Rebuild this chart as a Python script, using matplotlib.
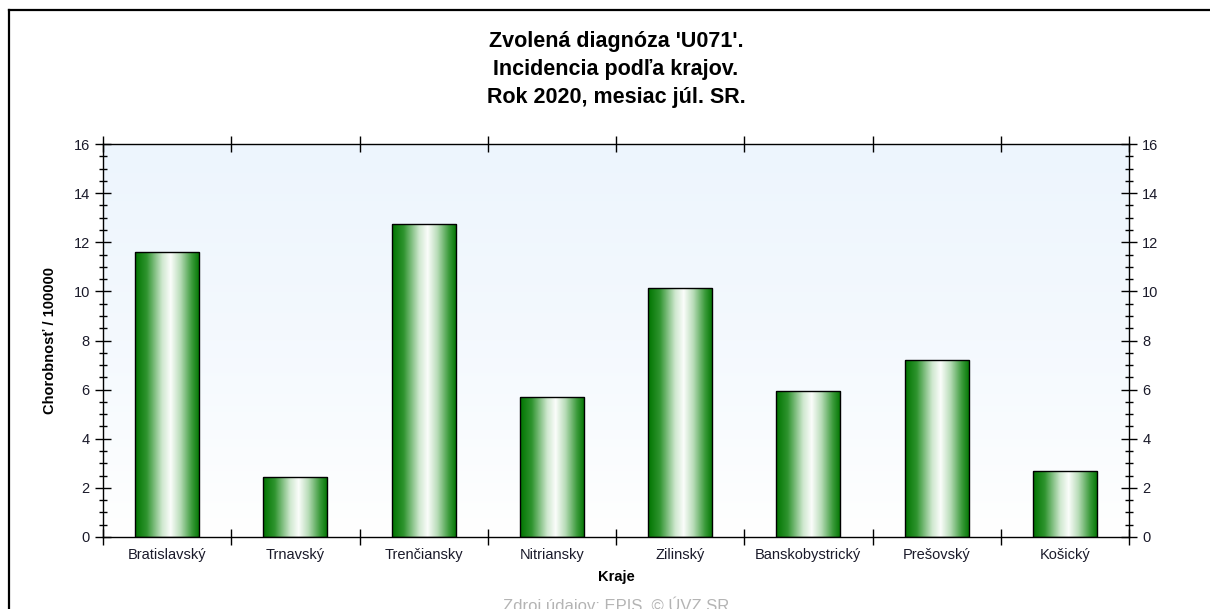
import numpy as np
import matplotlib
matplotlib.use('Agg')
import matplotlib.pyplot as plt
from matplotlib.colors import LinearSegmentedColormap
from matplotlib.lines import Line2D
from matplotlib.ticker import MultipleLocator

plt.rcParams['font.family'] = ['Liberation Sans', 'DejaVu Sans']

# data
regions = ['Bratislavský', 'Trnavský', 'Trenčiansky', 'Nitriansky',
           'Zilinský', 'Banskobystrický', 'Prešovský', 'Košický']
incidence = [11.62, 2.46, 12.76, 5.72, 10.12, 5.96, 7.22, 2.70]

title_lines = ["Zvolená diagnóza 'U071'.", "Incidencia podľa krajov.", "Rok 2020, mesiac júl. SR."]

fig = plt.figure(figsize=(12.1, 6.09), dpi=100)
ax = fig.add_axes([103/1210, 1-537/609, (1129-103)/1210, (537-144)/609])

# figure frame (top and left only, rest is cropped)
fig.add_artist(Line2D([9/1210, 1], [1-10/609, 1-10/609], color='black', lw=1.6, transform=fig.transFigure))
fig.add_artist(Line2D([9/1210, 9/1210], [0, 1-10/609], color='black', lw=1.6, transform=fig.transFigure))

# background gradient of the plot area
bg = np.linspace(0, 1, 256).reshape(-1, 1)
bg_cmap = LinearSegmentedColormap.from_list('bg', ['#ffffff', '#f4f9fe', '#edf5fd'])
ax.imshow(bg, cmap=bg_cmap, aspect='auto', extent=[0, 1, 0, 1], transform=ax.transAxes,
          origin='lower', zorder=0)

x = np.arange(len(regions))
bars = ax.bar(x, incidence, width=0.5, facecolor='none', edgecolor='black', linewidth=1.0, zorder=3)

# horizontal green-white-green shading of each bar
bar_cmap = LinearSegmentedColormap.from_list('bar', [
    (0.0, '#007400'), (0.18, '#2f942f'), (0.42, '#cfe8cf'), (0.55, '#fbfdfb'),
    (0.7, '#b8dcb8'), (0.88, '#3a9a3a'), (1.0, '#007400')])
grad = np.linspace(0, 1, 256).reshape(1, -1)
for b in bars:
    x0, y0 = b.get_x(), b.get_y()
    im = ax.imshow(grad, cmap=bar_cmap, aspect='auto',
                   extent=[x0, x0 + b.get_width(), y0, y0 + b.get_height()], zorder=2)
    im.set_clip_path(b)

ax.set_xlim(-0.5, len(regions) - 0.5)
ax.set_ylim(0, 16)

ax.set_xticks(x)
ax.set_xticklabels(regions, fontsize=10.5, color='#1a1a2a')
ax.tick_params(axis='x', which='major', length=0, pad=8)
ax.set_xticks(np.arange(len(regions) + 1) - 0.5, minor=True)
ax.tick_params(axis='x', which='minor', direction='inout', length=11, width=1, top=True)

ax.yaxis.set_major_locator(MultipleLocator(2))
ax.yaxis.set_minor_locator(MultipleLocator(0.5))
ax.tick_params(axis='y', which='major', direction='inout', length=11, width=1,
               labelsize=10.5, labelcolor='#1a1a2a', right=True, labelright=True, pad=4)
ax.tick_params(axis='y', which='minor', direction='inout', length=6, width=1, right=True)

for s in ax.spines.values():
    s.set_linewidth(1.0)
    s.set_zorder(4)

ax.set_xlabel('Kraje', fontsize=10.5, fontweight='bold', labelpad=6)
ax.set_ylabel("Chorobnosť / 100000", fontsize=10.5, fontweight='bold', labelpad=12)

cx = (103 + 1129) / 2 / 1210
for i, line in enumerate(title_lines):
    fig.text(cx, 1 - (42 + i * 27.5) / 609, line, ha='center', va='center',
             fontsize=15.5, fontweight='bold')

fig.text(cx, 1 - 596/609, 'Zdroj údajov: EPIS, © ÚVZ SR', ha='center', va='top',
         fontsize=12, color='#b4b4b4')

fig.savefig('out.png', dpi=100)
